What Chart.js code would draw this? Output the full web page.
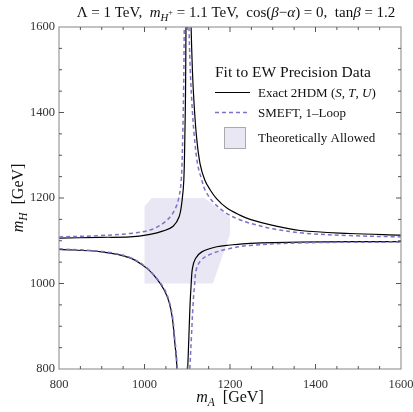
<!DOCTYPE html>
<html>
<head>
<meta charset="utf-8">
<script src="https://cdn.jsdelivr.net/npm/chart.js@4"></script>
<style>
  body { margin: 0; background: #fff; }
  canvas { display: block; }
</style>
</head>
<body>
<canvas id="ewChart" width="413" height="412"></canvas>
<script>
// values, in GeV (mA on x, mH on y)
const exactUpperLeftA = [800, 896, 966, 1013, 1044, 1067, 1081, 1088, 1092, 1094.5, 1096, 1097];
const exactUpperLeftH = [1106, 1108, 1109, 1115, 1123, 1134, 1156, 1195, 1242, 1350, 1450, 1600];
const smeftUpperLeftA = [800, 896, 966, 1013, 1044, 1066, 1079, 1086, 1089.5, 1091.5, 1093];
const smeftUpperLeftH = [1109, 1112, 1117, 1125, 1141, 1164, 1195, 1242, 1350, 1450, 1600];

const exactLowerLeftA = [800, 900, 966, 1005, 1028, 1046, 1057, 1065, 1070, 1074, 1076];
const exactLowerLeftH = [1080, 1074, 1060, 1036, 1012, 985, 958, 920, 870, 830, 800];
const smeftLowerLeftA = [800, 900, 966, 1005, 1028, 1047, 1058, 1066, 1071, 1075, 1077];
const smeftLowerLeftH = [1081, 1075, 1061, 1037, 1013, 986, 958, 920, 870, 830, 800];

const exactLowerRightA = [1101, 1104, 1106.5, 1109, 1112, 1119, 1134, 1169, 1200, 1247, 1364, 1600];
const exactLowerRightH = [800, 880, 950, 995, 1035, 1058, 1074, 1086, 1090, 1094, 1097, 1098];
const smeftLowerRightA = [1106, 1110, 1113.5, 1117, 1121, 1131, 1153, 1200, 1247, 1364, 1600];
const smeftLowerRightH = [800, 880, 950, 995, 1032, 1053, 1068, 1082, 1089, 1095, 1097];

const exactUpperRightA = [1109, 1112, 1116, 1122, 1130, 1141, 1153, 1169, 1192, 1223, 1247, 1300, 1364, 1480, 1600];
const exactUpperRightH = [1600, 1500, 1420, 1340, 1280, 1242, 1220, 1198, 1177, 1160, 1150, 1136, 1124, 1117, 1113];
const smeftUpperRightA = [1104, 1107, 1111, 1116, 1124, 1134, 1142, 1161, 1192, 1223, 1247, 1300, 1371, 1480, 1600];
const smeftUpperRightH = [1600, 1500, 1420, 1350, 1280, 1242, 1218, 1190, 1164, 1149, 1141, 1128, 1118, 1112, 1109];

const allowedA = [1000, 1160, 1200, 1200, 1140, 1017, 1000, 1000];
const allowedH = [1000, 1000, 1115, 1155, 1200, 1200, 1180, 1000];

const axisMin = 800;
const axisMax = 1600;
const tickStep = 50;
const labelStep = 200;

const serif = "'Liberation Serif', 'DejaVu Serif', serif";
const exactColor = '#000000';
const smeftColor = '#7b73c6';
const allowedColor = '#e9e7f3';

function pts(xs, ys) {
  return xs.map((x, i) => ({ x: x, y: ys[i] }));
}

function exactSet(xs, ys) {
  return { data: pts(xs, ys), showLine: true, borderColor: exactColor, borderWidth: 1.2, pointRadius: 0, fill: false, tension: 0.35, order: 2 };
}
function smeftSet(xs, ys) {
  return { data: pts(xs, ys), showLine: true, borderColor: smeftColor, borderWidth: 1.5, borderDash: [4, 3], pointRadius: 0, fill: false, tension: 0.35, order: 1 };
}

// text with italic / sub parts
function drawRich(ctx, parts, x, y, size, align) {
  const fontFor = p => {
    const s = p.s === 'sub' ? size * 0.72 : p.s === 'subsup' ? size * 0.55 : size;
    return (p.i ? 'italic ' : '') + s + 'px ' + serif;
  };
  let total = 0;
  parts.forEach(p => { ctx.font = fontFor(p); total += ctx.measureText(p.t).width; });
  let cx = align === 'center' ? x - total / 2 : x;
  parts.forEach(p => {
    ctx.font = fontFor(p);
    let dy = 0;
    if (p.s === 'sub') dy = size * 0.25;
    if (p.s === 'subsup') dy = -size * 0.12;
    ctx.fillText(p.t, cx, y + dy);
    cx += ctx.measureText(p.t).width;
  });
}

const decorPlugin = {
  id: 'decor',
  afterDraw(chart) {
    const ctx = chart.ctx;
    const a = chart.chartArea;
    const xs = chart.scales.x;
    const ys = chart.scales.y;
    ctx.save();

    // frame
    ctx.strokeStyle = '#9a9a9a';
    ctx.lineWidth = 1.2;
    ctx.strokeRect(a.left, a.top, a.right - a.left, a.bottom - a.top);

    // inward ticks on all sides
    ctx.strokeStyle = '#555';
    ctx.lineWidth = 1;
    for (let v = axisMin + tickStep; v < axisMax; v += tickStep) {
      const len = v % labelStep === 0 ? 5 : 3;
      const px = xs.getPixelForValue(v);
      const py = ys.getPixelForValue(v);
      ctx.beginPath();
      ctx.moveTo(px, a.bottom); ctx.lineTo(px, a.bottom - len);
      ctx.moveTo(px, a.top); ctx.lineTo(px, a.top + len);
      ctx.moveTo(a.left, py); ctx.lineTo(a.left + len, py);
      ctx.moveTo(a.right, py); ctx.lineTo(a.right - len, py);
      ctx.stroke();
    }

    ctx.fillStyle = '#111';
    ctx.textBaseline = 'alphabetic';

    // title
    drawRich(ctx, [
      { t: '\u039B = 1 TeV,  ' },
      { t: 'm', i: true },
      { t: 'H', i: true, s: 'sub' },
      { t: '+', s: 'subsup' },
      { t: ' = 1.1 TeV,  cos(' },
      { t: '\u03B2', i: true },
      { t: '\u2212' },
      { t: '\u03B1', i: true },
      { t: ') = 0,  tan' },
      { t: '\u03B2', i: true },
      { t: ' = 1.2' }
    ], (a.left + a.right) / 2 + 6, 17, 15, 'center');

    // axis titles
    drawRich(ctx, [
      { t: 'm', i: true },
      { t: 'A', i: true, s: 'sub' },
      { t: '  [GeV]' }
    ], (a.left + a.right) / 2, 402, 16, 'center');

    ctx.save();
    ctx.translate(23, (a.top + a.bottom) / 2);
    ctx.rotate(-Math.PI / 2);
    drawRich(ctx, [
      { t: 'm', i: true },
      { t: 'H', i: true, s: 'sub' },
      { t: '  [GeV]' }
    ], 0, 0, 16, 'center');
    ctx.restore();

    // legend
    ctx.font = '15.5px ' + serif;
    ctx.fillText('Fit to EW Precision Data', 215, 77);

    ctx.strokeStyle = exactColor;
    ctx.lineWidth = 1.2;
    ctx.beginPath(); ctx.moveTo(215, 92.5); ctx.lineTo(250, 92.5); ctx.stroke();
    drawRich(ctx, [
      { t: 'Exact 2HDM (' },
      { t: 'S', i: true }, { t: ', ' },
      { t: 'T', i: true }, { t: ', ' },
      { t: 'U', i: true }, { t: ')' }
    ], 258, 97, 13, 'left');

    ctx.strokeStyle = smeftColor;
    ctx.lineWidth = 1.5;
    ctx.setLineDash([4, 3]);
    ctx.beginPath(); ctx.moveTo(215, 112.5); ctx.lineTo(250, 112.5); ctx.stroke();
    ctx.setLineDash([]);
    ctx.font = '13px ' + serif;
    ctx.fillText('SMEFT, 1\u2013Loop', 258, 117);

    ctx.fillStyle = allowedColor;
    ctx.fillRect(224.5, 127.5, 21, 21);
    ctx.strokeStyle = '#aaa';
    ctx.lineWidth = 1;
    ctx.strokeRect(224.5, 127.5, 21, 21);
    ctx.fillStyle = '#111';
    ctx.fillText('Theoretically Allowed', 258, 141.5);

    ctx.restore();
  }
};

const tickFont = { family: serif, size: 12.5 };

new Chart(document.getElementById('ewChart'), {
  type: 'scatter',
  data: {
    datasets: [
      { data: pts(allowedA, allowedH), showLine: true, borderWidth: 0, borderColor: allowedColor, backgroundColor: allowedColor, pointRadius: 0, fill: 'shape', tension: 0, order: 3 },
      exactSet(exactUpperLeftA, exactUpperLeftH),
      exactSet(exactLowerLeftA, exactLowerLeftH),
      exactSet(exactLowerRightA, exactLowerRightH),
      exactSet(exactUpperRightA, exactUpperRightH),
      smeftSet(smeftUpperLeftA, smeftUpperLeftH),
      smeftSet(smeftLowerLeftA, smeftLowerLeftH),
      smeftSet(smeftLowerRightA, smeftLowerRightH),
      smeftSet(smeftUpperRightA, smeftUpperRightH)
    ]
  },
  options: {
    responsive: false,
    animation: false,
    devicePixelRatio: 1,
    layout: { padding: { top: 27, right: 12, left: 0, bottom: 0 } },
    plugins: {
      legend: { display: false },
      tooltip: { enabled: false },
      title: { display: false }
    },
    scales: {
      x: {
        type: 'linear', min: axisMin, max: axisMax,
        afterFit: s => { s.height = 43; s.paddingLeft = 0; s.paddingRight = 0; },
        grid: { display: false, drawTicks: false },
        border: { display: false },
        ticks: {
          stepSize: tickStep, autoSkip: false, maxRotation: 0, padding: 8,
          font: tickFont, color: '#333',
          callback: v => v % labelStep === 0 ? String(v) : ''
        }
      },
      y: {
        type: 'linear', min: axisMin, max: axisMax,
        afterFit: s => { s.width = 59; s.paddingTop = 0; s.paddingBottom = 0; },
        grid: { display: false, drawTicks: false },
        border: { display: false },
        ticks: {
          stepSize: tickStep, autoSkip: false, padding: 4,
          font: tickFont, color: '#333',
          callback: v => v % labelStep === 0 ? String(v) : ''
        }
      }
    }
  },
  plugins: [decorPlugin]
});
</script>
</body>
</html>
